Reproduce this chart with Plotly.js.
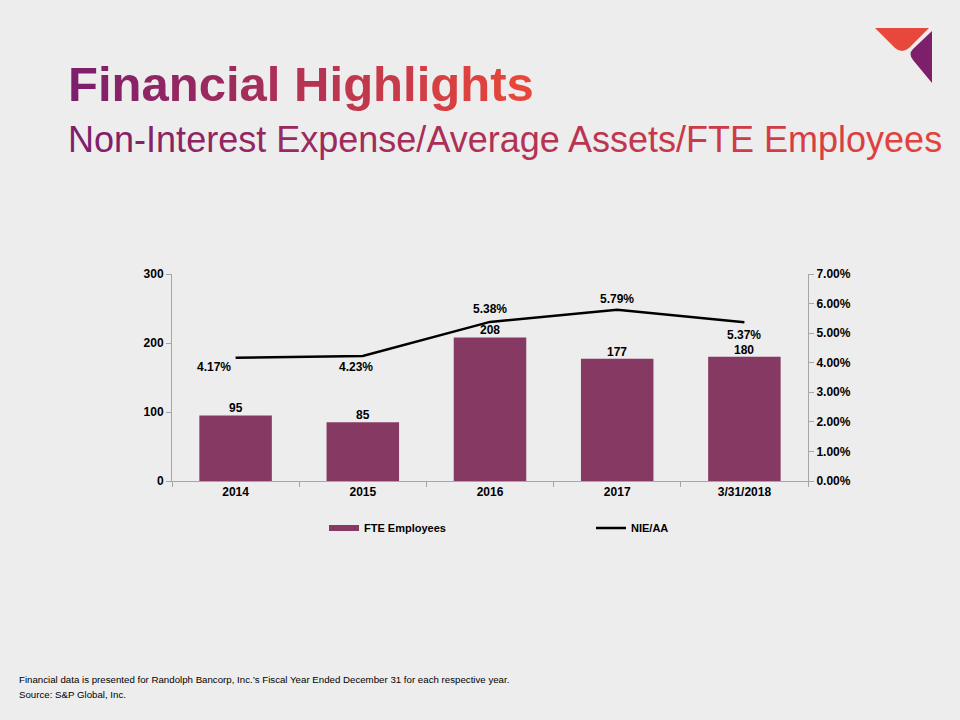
<!DOCTYPE html>
<html>
<head>
<meta charset="utf-8">
<script src="https://cdn.plot.ly/plotly-3.0.1.min.js"></script>
<style>
html,body{margin:0;padding:0;background:#ededed;}
#chart{width:960px;height:720px;}
</style>
</head>
<body>
<div id="chart"></div>
<script>
// ---- data ----
const categories = ["2014", "2015", "2016", "2017", "3/31/2018"];
const fteEmployees = [95, 85, 208, 177, 180];
const nieAA = [4.17, 4.23, 5.38, 5.79, 5.37];
const leftTicks = [0, 100, 200, 300];
const rightTicks = [0, 1, 2, 3, 4, 5, 6, 7];
// label offsets (pixels) for the NIE/AA labels
const nieLabelXShift = [-22, -7, 0, 0, 0];
const nieLabelYShift = [-9, -11, 13, 11, -13];

// ---- layout geometry ----
const W = 960, H = 720;
const ML = 172, MR = 152, MT = 274, MB = 239;
const PW = W - ML - MR, PH = H - MT - MB;
const px2x = p => (p - ML) / PW;
const py2y = p => (H - MB - p) / PH;

function gradientText(str, c1, c2) {
  const a = [parseInt(c1.slice(1,3),16), parseInt(c1.slice(3,5),16), parseInt(c1.slice(5,7),16)];
  const b = [parseInt(c2.slice(1,3),16), parseInt(c2.slice(3,5),16), parseInt(c2.slice(5,7),16)];
  const n = str.length;
  let out = "";
  for (let i = 0; i < n; i++) {
    const t = n > 1 ? i / (n - 1) : 0;
    const c = a.map((v, k) => Math.round(v + (b[k] - v) * t));
    out += '<span style="color:rgb(' + c.join(',') + ')">' + str[i] + '</span>';
  }
  return out;
}

const fontMain = "Liberation Sans, Arial, sans-serif";
const barColor = "#863a63";
const labelFont = {family: fontMain, size: 12, color: "#000", weight: "bold"};

const traces = [
  {
    type: "bar",
    name: "FTE Employees",
    x: categories,
    y: fteEmployees,
    marker: {color: barColor},
    showlegend: false,
    hoverinfo: "skip"
  },
  {
    // legend-only swatch for the bars (wide flat swatch like the original)
    type: "scatter",
    mode: "lines",
    name: "FTE Employees",
    x: categories,
    y: categories.map(() => null),
    line: {color: barColor, width: 6},
    showlegend: true,
    hoverinfo: "skip"
  },
  {
    type: "scatter",
    mode: "lines",
    name: "NIE/AA",
    x: categories,
    y: nieAA,
    yaxis: "y2",
    line: {color: "#000", width: 2.5},
    cliponaxis: false,
    hoverinfo: "skip"
  }
];

// category axis: annotation x given as the category index
const barAnnotations = categories.map((c, i) => ({
  xref: "x", yref: "y",
  x: i, y: fteEmployees[i],
  text: String(fteEmployees[i]),
  showarrow: false,
  xanchor: "center", yanchor: "bottom", yshift: -2,
  font: labelFont
}));

const nieAnnotations = categories.map((c, i) => ({
  xref: "x", yref: "y2",
  x: i, y: nieAA[i],
  text: nieAA[i].toFixed(2) + "%",
  showarrow: false,
  xshift: nieLabelXShift[i], yshift: nieLabelYShift[i],
  xanchor: "center", yanchor: "middle",
  font: labelFont
}));

const layout = {
  width: W, height: H,
  margin: {l: ML, r: MR, t: MT, b: MB, pad: 0},
  paper_bgcolor: "#ededed",
  plot_bgcolor: "#ededed",
  bargap: 0.43,
  showlegend: true,
  font: {family: fontMain, size: 12, color: "#000"},
  xaxis: {
    type: "category",
    categoryorder: "array",
    categoryarray: categories,
    range: [-0.5, categories.length - 0.5],
    showline: true, linecolor: "#a6a6a6", linewidth: 1,
    ticks: "outside", ticklen: 5, tickcolor: "#a6a6a6",
    tickson: "boundaries",
    tickangle: 0,
    showgrid: false, zeroline: false,
    tickfont: labelFont
  },
  yaxis: {
    range: [0, 300],
    tickvals: leftTicks,
    showline: true, linecolor: "#a6a6a6", linewidth: 1,
    ticks: "outside", ticklen: 5, tickcolor: "#a6a6a6",
    showgrid: false, zeroline: false,
    tickfont: labelFont
  },
  yaxis2: {
    overlaying: "y", side: "right",
    range: [0, 7],
    tickvals: rightTicks,
    ticktext: rightTicks.map(v => v.toFixed(2) + "%"),
    showline: true, linecolor: "#a6a6a6", linewidth: 1,
    ticks: "outside", ticklen: 5, tickcolor: "#a6a6a6",
    showgrid: false, zeroline: false,
    tickfont: labelFont
  },
  legend: {
    orientation: "h",
    x: px2x(324), xanchor: "left",
    y: py2y(528), yanchor: "middle",
    entrywidth: 222, entrywidthmode: "pixels",
    itemwidth: 30,
    bgcolor: "rgba(0,0,0,0)",
    font: {family: fontMain, size: 11, color: "#000", weight: "bold"},
    traceorder: "normal"
  },
  annotations: barAnnotations.concat(nieAnnotations).concat([
    {
      xref: "paper", yref: "paper",
      x: px2x(66), y: py2y(84), xanchor: "left", yanchor: "middle",
      text: gradientText("Financial Highlights", "#7e1f6c", "#e8463b"),
      showarrow: false,
      font: {family: fontMain, size: 49, weight: "bold"}
    },
    {
      xref: "paper", yref: "paper",
      x: px2x(66), y: py2y(139), xanchor: "left", yanchor: "middle",
      text: gradientText("Non-Interest Expense/Average Assets/FTE Employees", "#7e1f6c", "#e3433d"),
      showarrow: false,
      font: {family: fontMain, size: 36}
    },
    {
      xref: "paper", yref: "paper",
      x: px2x(17), y: py2y(679), xanchor: "left", yanchor: "middle",
      text: "Financial data is presented for Randolph Bancorp, Inc.\u2019s Fiscal Year Ended December 31 for each respective year.",
      showarrow: false,
      font: {family: fontMain, size: 9.7, color: "#000"}
    },
    {
      xref: "paper", yref: "paper",
      x: px2x(17), y: py2y(694), xanchor: "left", yanchor: "middle",
      text: "Source: S&P Global, Inc.",
      showarrow: false,
      font: {family: fontMain, size: 9.7, color: "#000"}
    }
  ]),
  shapes: [
    {
      type: "path", xref: "paper", yref: "paper",
      path: "M" + px2x(875) + "," + py2y(28) + " L" + px2x(929) + "," + py2y(28) +
            " L" + px2x(909) + "," + py2y(48) + " Q" + px2x(902) + "," + py2y(54) + " " + px2x(895) + "," + py2y(48) + " Z",
      fillcolor: "#e8473c", line: {width: 0}
    },
    {
      type: "path", xref: "paper", yref: "paper",
      path: "M" + px2x(932) + "," + py2y(31) + " L" + px2x(932) + "," + py2y(83) +
            " L" + px2x(913) + "," + py2y(60) + " Q" + px2x(908) + "," + py2y(54) + " " + px2x(913) + "," + py2y(49) + " Z",
      fillcolor: "#7e1f6c", line: {width: 0}
    }
  ]
};

Plotly.newPlot("chart", traces, layout, {displayModeBar: false, staticPlot: true});
</script>
</body>
</html>
